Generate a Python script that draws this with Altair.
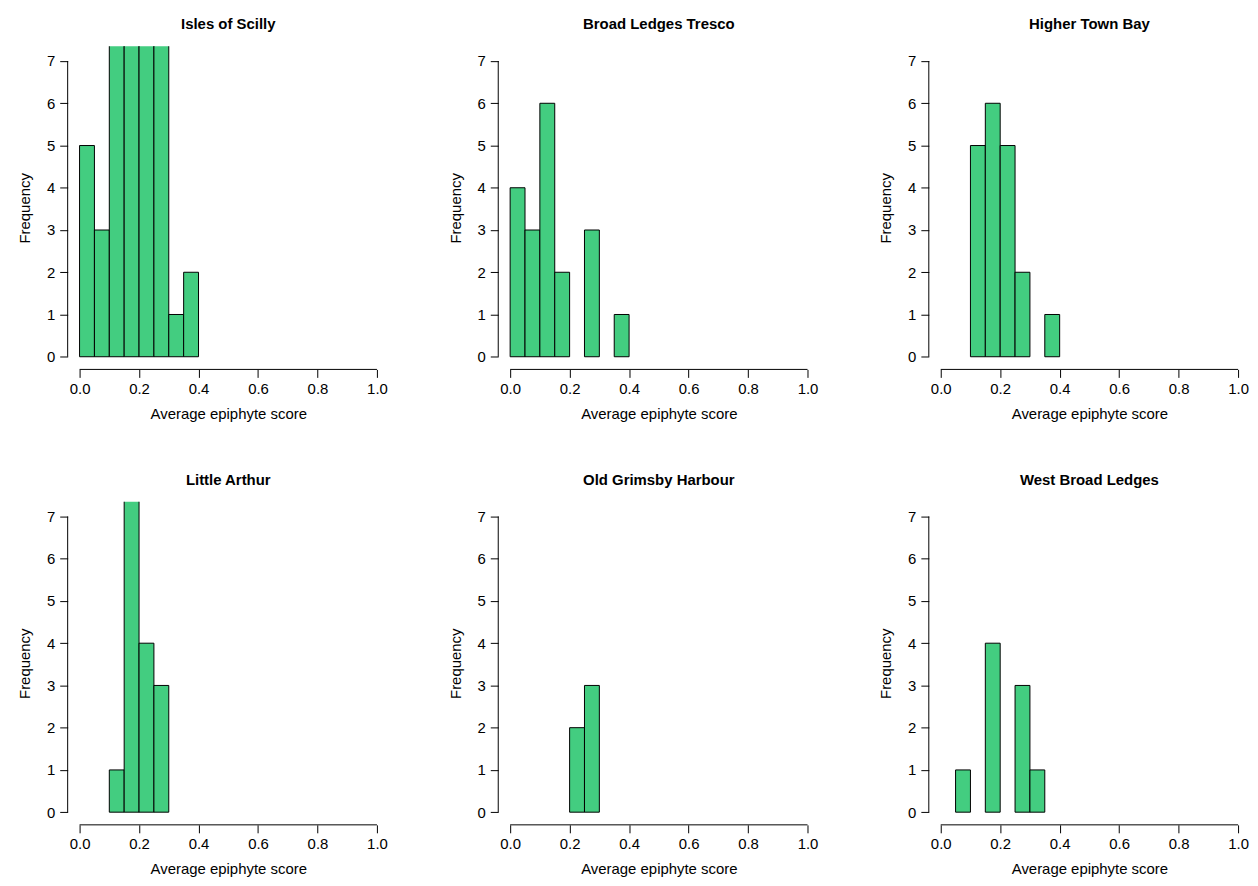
import pandas as pd
import altair as alt

bin_start = [0.0, 0.05, 0.10, 0.15, 0.20, 0.25, 0.30, 0.35]
bin_width = 0.05

sites = ["Isles of Scilly", "Broad Ledges Tresco", "Higher Town Bay",
         "Little Arthur", "Old Grimsby Harbour", "West Broad Ledges"]
counts = {
    "Isles of Scilly":     [5, 3, 12, 21, 11, 14, 1, 2],
    "Broad Ledges Tresco": [4, 3, 6, 2, 0, 3, 0, 1],
    "Higher Town Bay":     [0, 0, 5, 6, 5, 2, 0, 1],
    "Little Arthur":       [0, 0, 1, 9, 4, 3, 0, 0],
    "Old Grimsby Harbour": [0, 0, 0, 0, 2, 3, 0, 0],
    "West Broad Ledges":   [0, 1, 0, 4, 0, 3, 1, 0],
}

W, H = 323, 325
FONT = "Liberation Sans"


def panel(site):
    df = pd.DataFrame({
        "x0": bin_start,
        "x1": [b + bin_width for b in bin_start],
        "n": counts[site],
    })
    df = df[df["n"] > 0]
    xs = alt.Scale(domain=[-0.04, 1.04], nice=False, zero=False)
    ys = alt.Scale(domain=[-0.3, 7.35], nice=False, zero=False)
    bars = alt.Chart(df).mark_rect(
        fill="#43CD80", stroke="black", strokeWidth=1, clip=True
    ).encode(
        x=alt.X("x0:Q", scale=xs, title="Average epiphyte score",
                axis=alt.Axis(values=[0, 0.2, 0.4, 0.6, 0.8, 1.0], format=".1f",
                              domain=False, grid=False, tickColor="black",
                              tickSize=8, labelPadding=4, titlePadding=10)),
        x2="x1:Q",
        y=alt.Y("n:Q", scale=ys, title="Frequency",
                axis=alt.Axis(values=list(range(8)), domain=False, grid=False,
                              tickColor="black", tickSize=8, labelPadding=5,
                              titlePadding=14)),
        y2=alt.datum(0),
    )
    xline = alt.Chart(pd.DataFrame({"a": [0], "b": [1]})).mark_rule(color="black").encode(
        x=alt.X("a:Q", scale=xs), x2="b:Q", y=alt.value(H))
    yline = alt.Chart(pd.DataFrame({"a": [0], "b": [7]})).mark_rule(color="black").encode(
        y=alt.Y("a:Q", scale=ys), y2="b:Q", x=alt.value(0))
    return (bars + xline + yline).properties(
        width=W, height=H,
        title=alt.TitleParams(site, fontSize=15, fontWeight="bold", font=FONT,
                              offset=14),
    )


rows = [alt.hconcat(*[panel(s) for s in sites[i:i + 3]], spacing=59)
        for i in (0, 3)]
chart = alt.vconcat(*rows, spacing=52).configure_view(stroke=None).configure_axis(
    labelFont=FONT, titleFont=FONT, labelFontSize=15, titleFontSize=15,
    labelColor="black", titleColor="black", titleFontWeight="normal"
).properties(padding={"left": 9, "top": 7, "right": 0, "bottom": 0})

chart.save("out.html", embed_options={"renderer": "svg", "actions": False})
